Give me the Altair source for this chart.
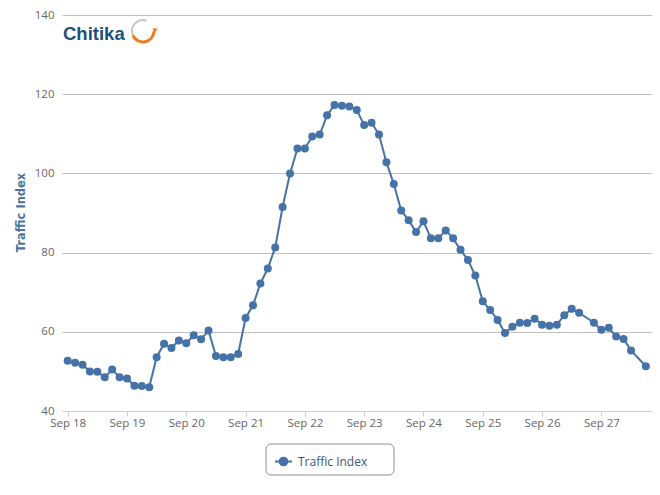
import altair as alt
import pandas as pd

# time of each reading, hours after Sep 18 00:00
hours = [0, 3, 6, 9, 12, 15, 18, 21,
         24, 27, 30, 33, 36, 39, 42, 45,
         48, 51, 54, 57, 60, 63, 66, 69,
         72, 75, 78, 81, 84, 87, 90, 93,
         96, 99, 102, 105, 108, 111, 114, 117,
         120, 123, 126, 129, 132, 135, 138, 141,
         144, 147, 150, 153, 156, 159, 162, 165,
         168, 171, 174, 177, 180, 183, 186, 189,
         192, 195, 198, 201, 204, 207,
         213, 216, 219, 222, 225, 228, 234]

traffic = [52.7, 52.2, 51.7, 50.0, 49.9, 48.5, 50.5, 48.5,
           48.2, 46.4, 46.3, 46.0, 53.6, 57.0, 55.9, 57.8,
           57.1, 59.1, 58.1, 60.3, 53.9, 53.6, 53.6, 54.4,
           63.5, 66.7, 72.2, 76.0, 81.3, 91.5, 100.0, 106.3,
           106.3, 109.3, 109.8, 114.7, 117.3, 117.1, 116.9, 116.0,
           112.2, 112.8, 109.8, 102.8, 97.3, 90.6, 88.2, 85.2,
           87.9, 83.6, 83.6, 85.6, 83.6, 80.7, 78.1, 74.2,
           67.7, 65.5, 63.0, 59.7, 61.3, 62.3, 62.2, 63.3,
           61.8, 61.5, 61.8, 64.2, 65.8, 64.8,
           62.3, 60.5, 61.0, 58.8, 58.2, 55.3, 51.3]

day_labels = ["Sep 18", "Sep 19", "Sep 20", "Sep 21", "Sep 22",
              "Sep 23", "Sep 24", "Sep 25", "Sep 26", "Sep 27"]
day_ticks = [0, 24, 48, 72, 96, 120, 144, 168, 192, 216]
y_ticks = [40, 60, 80, 100, 120, 140]
series_name = "Traffic Index"
logo_text = "Chitika"

df = pd.DataFrame({"hour": hours, "value": traffic, "series": [series_name] * len(hours)})
one = pd.DataFrame({"k": [0]})

LINE = "#4572A7"
FONT = "Open Sans"

label_expr = "[" + ",".join("'%s'" % s for s in day_labels) + "][round(datum.value/24)]"

x_enc = alt.X(
    "hour:Q",
    scale=alt.Scale(domain=[-2.3, 236.5], nice=False, zero=False),
    axis=alt.Axis(
        values=day_ticks, labelExpr=label_expr, title=None, grid=False,
        domainColor="#C0D0E0", tickColor="#C0D0E0", tickSize=5,
        labelFont=FONT, labelFontSize=11.5, labelColor="#666666", labelPadding=1,
    ),
)
y_enc = alt.Y(
    "value:Q",
    scale=alt.Scale(domain=[40, 140], nice=False, zero=False),
    axis=alt.Axis(
        values=y_ticks, title="Traffic Index", grid=True, gridColor="#C0C0C0",
        domain=False, ticks=False, labelPadding=8,
        labelFont=FONT, labelFontSize=11.5, labelColor="#666666",
        titleFont="DejaVu Sans", titleFontSize=11.5, titleFontWeight="bold",
        titleColor="#4d759e", titleAngle=270, titleX=-41, titleY=197,
        titleAlign="center", titleBaseline="middle",
    ),
)
color_enc = alt.Color(
    "series:N",
    scale=alt.Scale(domain=[series_name], range=[LINE]),
    legend=alt.Legend(
        title=None, orient="none", legendX=204, legendY=429, direction="horizontal",
        padding=8,
        symbolType="M-1,0L1,0M-0.45,0A0.45,0.45,0,1,0,0.45,0A0.45,0.45,0,1,0,-0.45,0Z",
        symbolSize=289, symbolStrokeWidth=2, symbolFillColor=LINE, symbolStrokeColor=LINE,
        symbolOpacity=1, labelOffset=5,
        labelFont=FONT, labelFontSize=12, labelColor="#3E576F",
    ),
)

# legend frame (decoration around the library legend)
legend_box = alt.Chart(one).mark_rect(
    fill="white", stroke="#909090", strokeWidth=1, cornerRadius=5,
).encode(x=alt.value(204), x2=alt.value(332), y=alt.value(429), y2=alt.value(460))

base = alt.Chart(df).encode(x=x_enc, y=y_enc, color=color_enc)
line = base.mark_line(strokeWidth=2)
pts = base.mark_point(filled=True, size=64, opacity=1)

logo = alt.Chart(one).mark_text(
    text=logo_text, font="Liberation Sans", fontSize=18.5, fontWeight="bold",
    color="#1d4f78", align="left", baseline="alphabetic",
).encode(x=alt.value(1), y=alt.value(25))

swoosh_gray = alt.Chart(one).mark_arc(
    theta=4.3, theta2=6.6, radius=12, radius2=10, color="#c4c4c4",
).encode(x=alt.value(81), y=alt.value(16))
swoosh_orange = alt.Chart(one).mark_arc(
    theta=1.6, theta2=4.3, radius=12.5, radius2=9.5, color="#f07a1a",
).encode(x=alt.value(81), y=alt.value(16))
arrow = alt.Chart(one).mark_point(
    shape="triangle", filled=True, size=28, angle=60, color="#f07a1a", opacity=1,
).encode(x=alt.value(93), y=alt.value(15))

chart = alt.layer(legend_box, line, pts, logo, swoosh_gray, swoosh_orange, arrow).properties(
    width=590, height=396,
    autosize=alt.AutoSizeParams(type="none"),
    padding={"left": 54, "top": 7, "right": 0, "bottom": 70},
).configure_view(stroke=None)

chart.save("out.html", embed_options={"renderer": "svg", "actions": False})
